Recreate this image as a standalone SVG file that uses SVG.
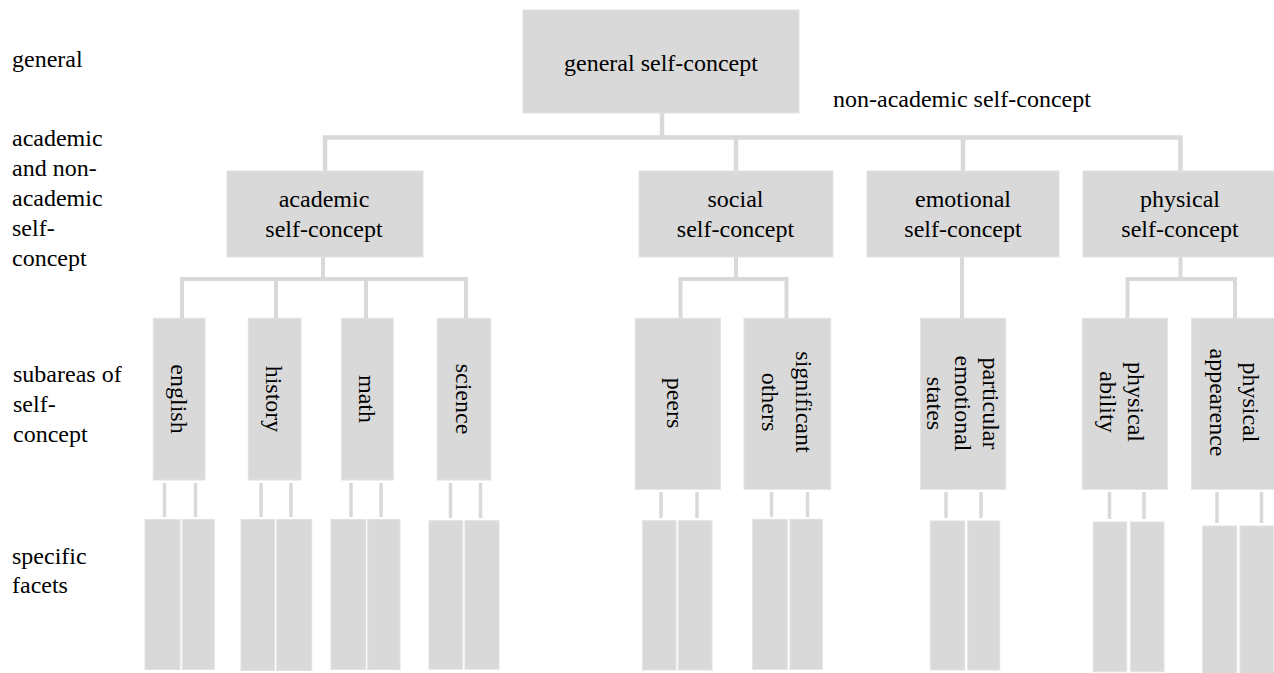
<svg xmlns="http://www.w3.org/2000/svg" width="1274" height="673" viewBox="0 0 1274 673">
<text x="12" y="67" font-family="Liberation Serif" font-size="24">general</text>
<text x="12" y="145.5" font-family="Liberation Serif" font-size="24">academic</text>
<text x="12" y="175.5" font-family="Liberation Serif" font-size="24">and non-</text>
<text x="12" y="205.5" font-family="Liberation Serif" font-size="24">academic</text>
<text x="12" y="235.5" font-family="Liberation Serif" font-size="24">self-</text>
<text x="12" y="265.5" font-family="Liberation Serif" font-size="24">concept</text>
<text x="13" y="382" font-family="Liberation Serif" font-size="24">subareas of</text>
<text x="13" y="412" font-family="Liberation Serif" font-size="24">self-</text>
<text x="13" y="442" font-family="Liberation Serif" font-size="24">concept</text>
<text x="12" y="564" font-family="Liberation Serif" font-size="24">specific</text>
<text x="12" y="593" font-family="Liberation Serif" font-size="24">facets</text>
<text x="833" y="107" font-family="Liberation Serif" font-size="24">non-academic  self-concept</text>
<g id="connectors" fill="none" stroke="#d9d9d9">
<path stroke-width="4.5" d="M662,113 V137.5 M325,171 V137.5 H1180.5 V171 M736,137.5 V171 M963,137.5 V171"/>
<path stroke-width="4" d="M323,257 V279 M182,318 V279 H466 V318 M276,279 V318 M366,279 V318"/>
<path stroke-width="4" d="M736,257 V279 M680.5,318 V279 H786.5 V318"/>
<path stroke-width="4" d="M962,257 V318"/>
<path stroke-width="4" d="M1180.5,257 V279 M1127.5,318 V279 H1235 V318"/>
<path stroke-width="3.5" d="M164.5,483 V517 M195.5,483 V517 M261,483 V517 M291,483 V517 M351,483 V517 M381,483 V517 M450.5,483 V518 M480.5,483 V518"/>
<path stroke-width="3.5" d="M661,492 V518 M697,492 V518 M771.5,492 V517 M807.5,492 V517 M946,492 V518 M981,492 V518 M1109.5,492 V519 M1144,492 V519 M1217,492 V523 M1261.5,492 V523"/>
</g>
<g id="n-general"><rect fill="#d9d9d9" stroke="#e2e2e2" x="523" y="10" width="276" height="103"/><text x="661" y="71" text-anchor="middle" font-family="Liberation Serif" font-size="24">general  self-concept</text></g>
<g id="n-academic"><rect fill="#d9d9d9" stroke="#e2e2e2" x="227" y="171" width="196" height="86"/><text x="324" y="206.5" text-anchor="middle" font-family="Liberation Serif" font-size="24">academic</text><text x="324" y="236.5" text-anchor="middle" font-family="Liberation Serif" font-size="24">self-concept</text></g>
<g id="n-social"><rect fill="#d9d9d9" stroke="#e2e2e2" x="639" y="171" width="194" height="86"/><text x="735.5" y="206.5" text-anchor="middle" font-family="Liberation Serif" font-size="24">social</text><text x="735.5" y="236.5" text-anchor="middle" font-family="Liberation Serif" font-size="24">self-concept</text></g>
<g id="n-emotional"><rect fill="#d9d9d9" stroke="#e2e2e2" x="867" y="171" width="192" height="86"/><text x="963" y="206.5" text-anchor="middle" font-family="Liberation Serif" font-size="24">emotional</text><text x="963" y="236.5" text-anchor="middle" font-family="Liberation Serif" font-size="24">self-concept</text></g>
<g id="n-physical"><rect fill="#d9d9d9" stroke="#e2e2e2" x="1083" y="171" width="194" height="86"/><text x="1180" y="206.5" text-anchor="middle" font-family="Liberation Serif" font-size="24">physical</text><text x="1180" y="236.5" text-anchor="middle" font-family="Liberation Serif" font-size="24">self-concept</text></g>
<g id="n-english"><rect fill="#d9d9d9" stroke="#e2e2e2" x="153.3" y="318.3" width="51.7" height="161.7"/><text transform="translate(179,399) rotate(90)" x="0" y="8.5" text-anchor="middle" font-family="Liberation Serif" font-size="24">english</text></g>
<g id="n-history"><rect fill="#d9d9d9" stroke="#e2e2e2" x="248.3" y="318.3" width="52.7" height="161.7"/><text transform="translate(274.7,399) rotate(90)" x="0" y="8.5" text-anchor="middle" font-family="Liberation Serif" font-size="24">history</text></g>
<g id="n-math"><rect fill="#d9d9d9" stroke="#e2e2e2" x="341.7" y="318.3" width="51.6" height="161.7"/><text transform="translate(367.5,399) rotate(90)" x="0" y="8.5" text-anchor="middle" font-family="Liberation Serif" font-size="24">math</text></g>
<g id="n-science"><rect fill="#d9d9d9" stroke="#e2e2e2" x="437.3" y="318.3" width="53.4" height="161.7"/><text transform="translate(464,399) rotate(90)" x="0" y="8.5" text-anchor="middle" font-family="Liberation Serif" font-size="24">science</text></g>
<g id="n-peers"><rect fill="#d9d9d9" stroke="#e2e2e2" x="635.3" y="318.3" width="85" height="171"/><text transform="translate(675,403) rotate(90)" x="0" y="8.5" text-anchor="middle" font-family="Liberation Serif" font-size="24">peers</text></g>
<g id="n-significant"><rect fill="#d9d9d9" stroke="#e2e2e2" x="744" y="318.3" width="86.7" height="171"/><text transform="translate(787.4,402) rotate(90)" text-anchor="middle" font-family="Liberation Serif" font-size="24"><tspan x="0" y="-9">significant</tspan><tspan x="0" y="25">others</tspan></text></g>
<g id="n-particular"><rect fill="#d9d9d9" stroke="#e2e2e2" x="920.7" y="318.3" width="85" height="171"/><text transform="translate(963.2,403.5) rotate(90)" text-anchor="middle" font-family="Liberation Serif" font-size="24"><tspan x="0" y="-20.3">particular</tspan><tspan x="0" y="8">emotional</tspan><tspan x="0" y="36.3">states</tspan></text></g>
<g id="n-ability"><rect fill="#d9d9d9" stroke="#e2e2e2" x="1082.3" y="318.3" width="85" height="171"/><text transform="translate(1124.8,402) rotate(90)" text-anchor="middle" font-family="Liberation Serif" font-size="24"><tspan x="0" y="-3">physical</tspan><tspan x="0" y="25.3">ability</tspan></text></g>
<g id="n-appearence"><rect fill="#d9d9d9" stroke="#e2e2e2" x="1191.7" y="318.3" width="85.3" height="171"/><text transform="translate(1234.3,402.5) rotate(90)" text-anchor="middle" font-family="Liberation Serif" font-size="24"><tspan x="0" y="-8.5">physical</tspan><tspan x="0" y="24.8">appearence</tspan></text></g>
<g id="facets" fill="#d9d9d9" stroke="#e2e2e2">
<rect x="145" y="519.5" width="35" height="150"/><rect x="182.3" y="519.5" width="32" height="150"/>
<rect x="241" y="519.5" width="33.5" height="151"/><rect x="276.7" y="519.5" width="35" height="151"/>
<rect x="331" y="519.5" width="34.7" height="150"/><rect x="367.7" y="519.5" width="32.3" height="150"/>
<rect x="429" y="520.7" width="33.7" height="148.5"/><rect x="465" y="520.7" width="34" height="148.5"/>
<rect x="642.7" y="520.7" width="33.3" height="149.3"/><rect x="678.3" y="520.7" width="33.7" height="149.3"/>
<rect x="752.7" y="519.3" width="34.6" height="150"/><rect x="790" y="519.3" width="32.3" height="150"/>
<rect x="930.3" y="521" width="34.4" height="149"/><rect x="967.7" y="521" width="32" height="149"/>
<rect x="1093.3" y="522" width="33.4" height="149.7"/><rect x="1130.7" y="522" width="33.3" height="149.7"/>
<rect x="1202.7" y="526" width="34" height="150"/><rect x="1240" y="526" width="33.3" height="150"/>
</g>
</svg>
